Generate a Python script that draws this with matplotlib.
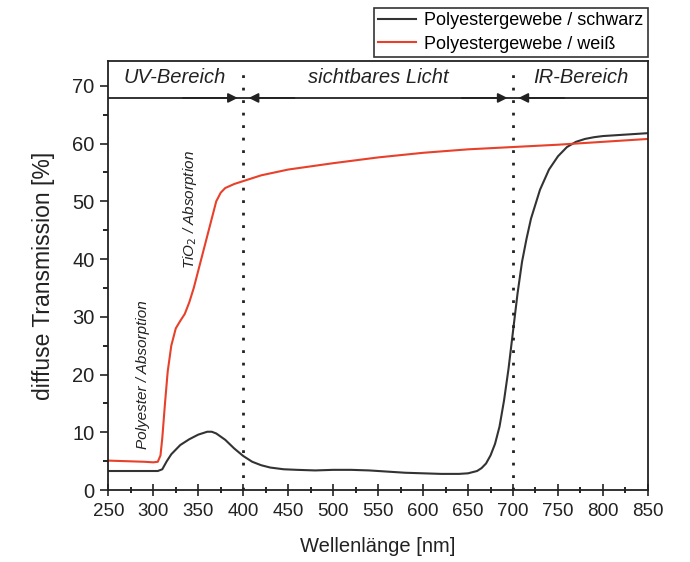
import numpy as np
import matplotlib.pyplot as plt

plt.rcParams['font.family'] = ['Liberation Sans', 'DejaVu Sans']

# Wellenlaenge [nm]
wl_schwarz = [250, 270, 290, 300, 305, 310, 315, 320, 330, 340, 350, 360, 365, 370,
              380, 390, 400, 410, 420, 430, 445, 460, 480, 500, 520, 540, 560, 580,
              600, 620, 640, 650, 660, 665, 670, 675, 680, 685, 690, 695, 700, 705,
              710, 715, 720, 730, 740, 750, 760, 770, 780, 790, 800, 820, 840, 850]
tr_schwarz = [3.3, 3.3, 3.3, 3.3, 3.3, 3.6, 5.0, 6.2, 7.8, 8.8, 9.6, 10.1, 10.1, 9.8,
              8.7, 7.2, 5.9, 4.9, 4.3, 3.9, 3.6, 3.5, 3.4, 3.5, 3.5, 3.4, 3.2, 3.0,
              2.9, 2.8, 2.8, 2.9, 3.3, 3.8, 4.6, 6.0, 8.0, 11.0, 15.5, 21.0, 27.5, 34.0,
              39.5, 43.5, 47.0, 52.0, 55.5, 57.8, 59.4, 60.3, 60.8, 61.1, 61.3, 61.5, 61.7, 61.8]

wl_weiss = [250, 270, 290, 300, 305, 308, 310, 313, 316, 320, 325, 330, 335, 340,
            345, 350, 355, 360, 365, 370, 375, 380, 390, 400, 420, 450, 500, 550,
            600, 650, 700, 750, 800, 850]
tr_weiss = [5.1, 5.0, 4.9, 4.8, 4.9, 6.0, 9.0, 15.0, 20.5, 25.0, 28.0, 29.3, 30.5, 32.5,
            35.0, 38.0, 41.0, 44.0, 47.0, 50.0, 51.5, 52.3, 53.0, 53.5, 54.5, 55.5, 56.6, 57.6,
            58.4, 59.0, 59.4, 59.8, 60.3, 60.8]

grenzen = [400, 700]
bereiche = ['UV-Bereich', 'sichtbares Licht', 'IR-Bereich']
bereich_x = [324, 550, 775]

fig = plt.figure(figsize=(6.9, 5.62), dpi=100)
ax = fig.add_axes([0.157, 0.128, 0.782, 0.7635])

ax.plot(wl_schwarz, tr_schwarz, color='#333333', lw=1.5, label='Polyestergewebe / schwarz')
ax.plot(wl_weiss, tr_weiss, color='#e8402a', lw=1.5, label='Polyestergewebe / weiß')

# Bereichsgrenzen
for g in grenzen:
    ax.plot([g, g], [0, 72.3], color='#222222', lw=2, linestyle=(0, (1, 3.5)))

# Pfeile fuer die Bereiche
y_pf = 67.9
ax.plot([250, 850], [y_pf, y_pf], color='#222222', lw=1.3)
ap = dict(color='#222222', lw=1.3, mutation_scale=14)
ax.annotate('', xy=(397, y_pf), xytext=(330, y_pf), arrowprops=dict(arrowstyle='-|>', **ap))
ax.annotate('', xy=(403, y_pf), xytext=(460, y_pf), arrowprops=dict(arrowstyle='-|>', **ap))
ax.annotate('', xy=(697, y_pf), xytext=(640, y_pf), arrowprops=dict(arrowstyle='-|>', **ap))
ax.annotate('', xy=(703, y_pf), xytext=(760, y_pf), arrowprops=dict(arrowstyle='-|>', **ap))

for name, xb in zip(bereiche, bereich_x):
    ax.text(xb, 71.4, name, ha='center', va='center', style='italic', fontsize=14.5, color='#222222')

ax.text(288, 20, 'Polyester / Absorption', rotation=90, ha='center', va='center',
        style='italic', fontsize=11, color='#222222')
ax.text(341, 48.5, 'TiO$_2$ / Absorption', rotation=90, ha='center', va='center',
        style='italic', fontsize=11, color='#222222')

ax.set_xlim(250, 850)
ax.set_ylim(0, 74.3)
ax.set_xticks(np.arange(250, 851, 50))
ax.set_xticks(np.arange(275, 850, 50), minor=True)
ax.set_yticks(np.arange(0, 71, 10))
ax.set_yticks(np.arange(5, 75, 10), minor=True)
ax.tick_params(axis='x', which='major', direction='inout', length=9, width=1.2, labelsize=13.5,
               colors='#222222', pad=5)
ax.tick_params(axis='x', which='minor', direction='inout', length=5, width=1.2)
ax.tick_params(axis='y', which='major', direction='out', length=6, width=1.2, labelsize=14.5,
               colors='#222222', pad=4)
ax.tick_params(axis='y', which='minor', direction='out', length=3.5, width=1.2)
for s in ax.spines.values():
    s.set_linewidth(1.3)
    s.set_color('#222222')

ax.set_xlabel('Wellenlänge [nm]', fontsize=14.5, color='#222222', labelpad=12)
ax.set_ylabel('diffuse Transmission [%]', fontsize=16.5, color='#222222', labelpad=12)

leg = ax.legend(loc='lower right', bbox_to_anchor=(1.0, 1.009), fontsize=13, fancybox=False,
                edgecolor='#333333', framealpha=1, handlelength=2.1, borderpad=0.25,
                labelspacing=0.35, handletextpad=0.45, borderaxespad=0)
leg.get_frame().set_linewidth(1.2)

fig.savefig('out.png', dpi=100)
